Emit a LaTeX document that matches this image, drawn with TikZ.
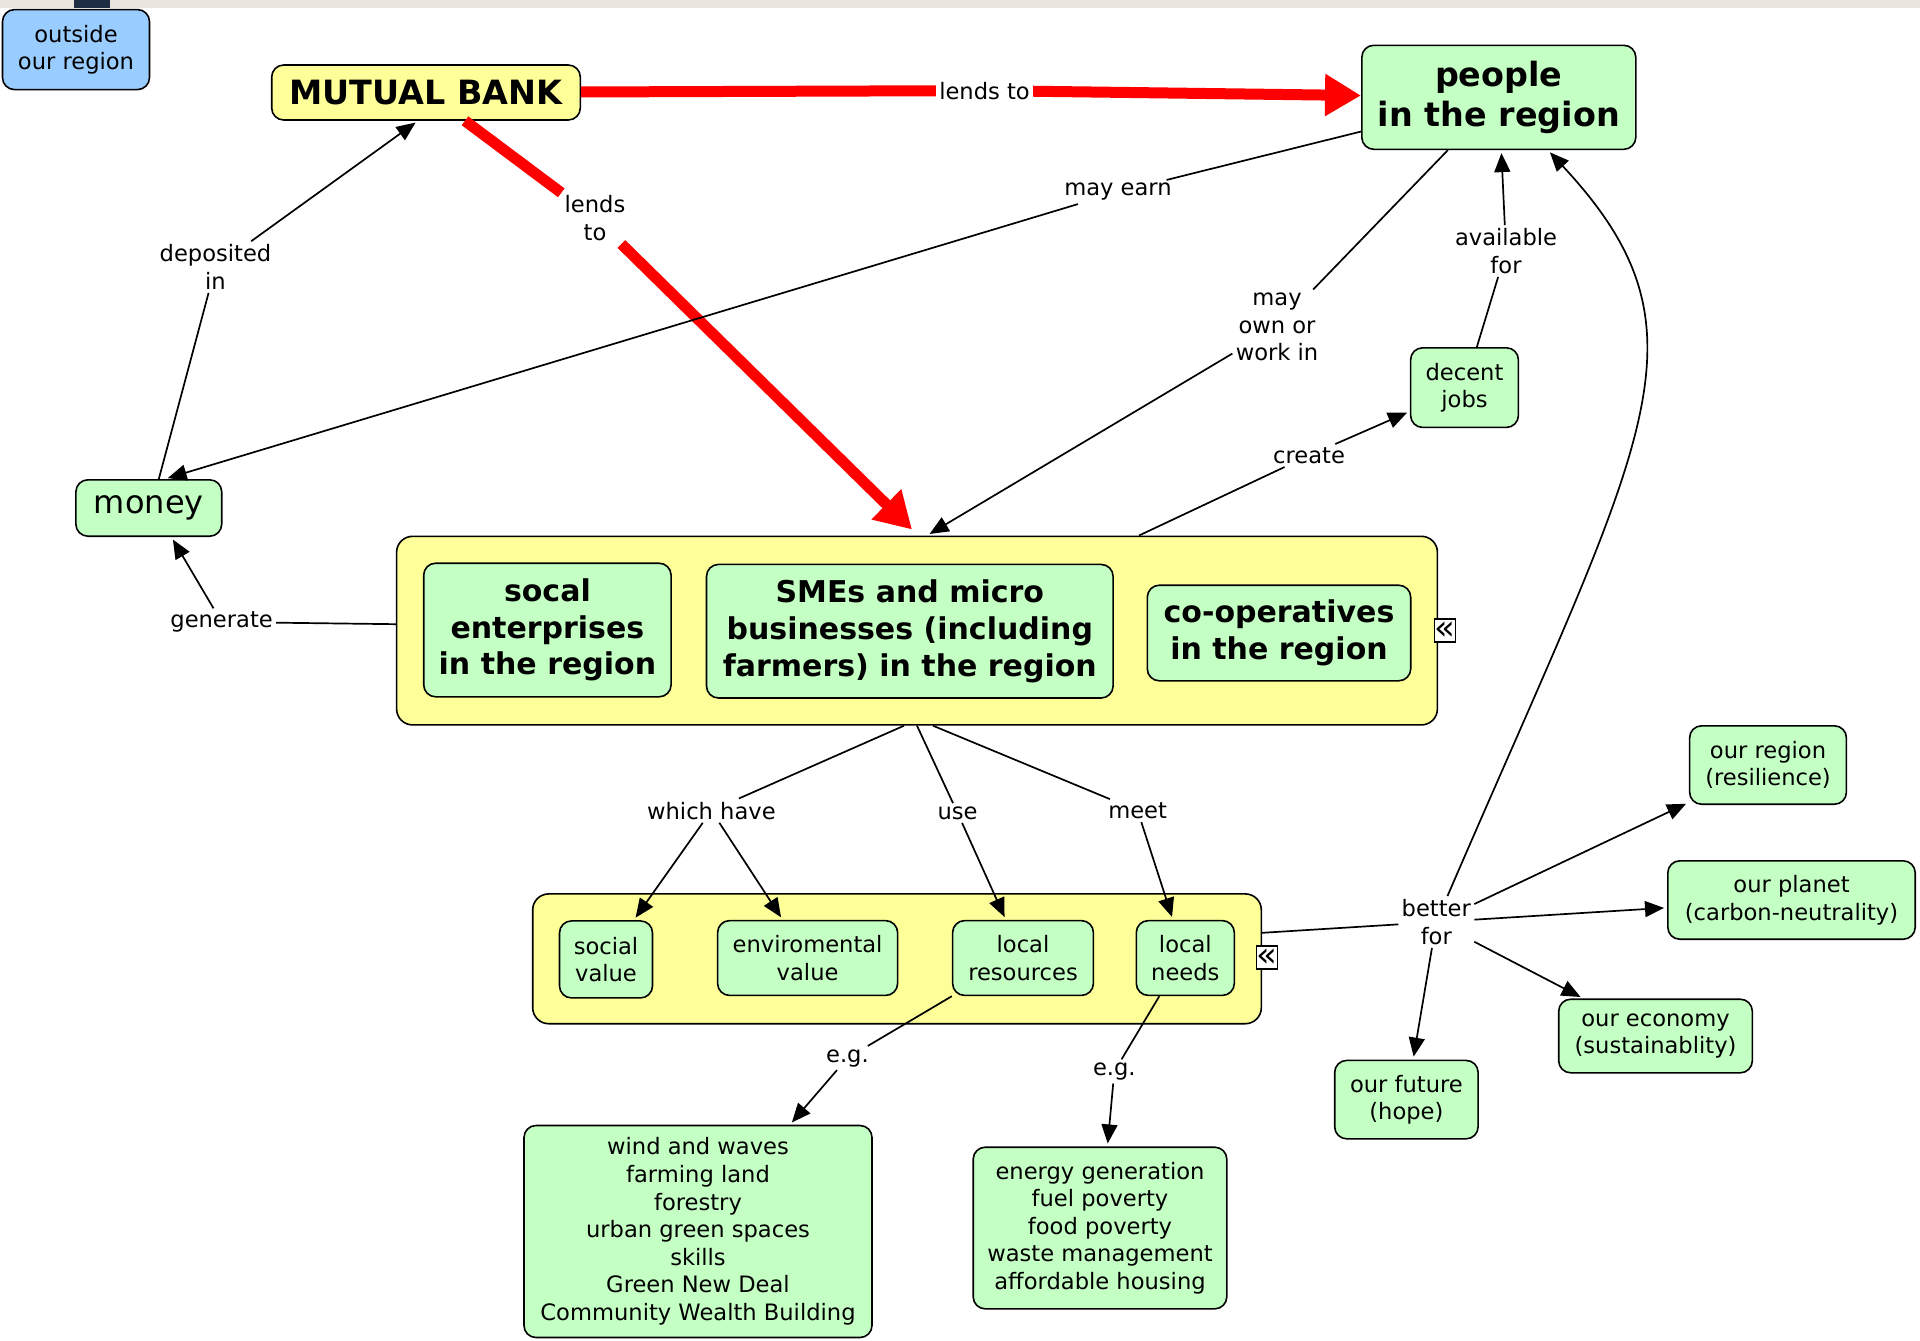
\documentclass[tikz,border=0pt]{standalone}
\usepackage{fontspec}
\setmainfont{DejaVu Sans}
\usetikzlibrary{arrows.meta}
\definecolor{cmapgreen}{RGB}{196,255,196}
\definecolor{cmapyellow}{RGB}{255,255,153}
\definecolor{cmapblue}{RGB}{153,204,255}
\definecolor{topbar}{RGB}{234,230,221}
\definecolor{topdark}{RGB}{30,45,65}
\begin{document}
\begin{tikzpicture}[x=0.5pt,y=-0.5pt,
  cbox/.style={draw, rounded corners=6pt, line width=0.8pt, fill=cmapgreen, align=center, inner sep=2pt, font=\fontsize{11.3}{13.8}\selectfont},
  bigbold/.style={font=\fontsize{16.7}{20.2}\selectfont\bfseries},
  midbold/.style={font=\fontsize{15}{18.4}\selectfont\bfseries},
  groupbox/.style={draw, rounded corners=8pt, line width=0.8pt, fill=cmapyellow},
  iconbox/.style={draw, fill=white, inner sep=0pt, minimum width=10pt, minimum height=11.5pt, line width=0.7pt, font=\fontsize{17}{17}\selectfont},
  phrase/.style={align=center, inner sep=1.5pt, font=\fontsize{11.3}{13.8}\selectfont},
  linkline/.style={line width=0.85pt},
  linkto/.style={linkline, -{Triangle[length=9.5pt,width=8pt]}, shorten >=1.5pt},
  lends/.style={line width=5.5pt, red},
  lendsto/.style={lends, -{Triangle[length=18pt,width=20pt]}}]
          \useasboundingbox (0,0) rectangle (1920,1340);
          \fill[white] (0,0) rectangle (1920,1340);
          \fill[topbar] (0,0) rectangle (1920,8);
          \fill[topdark] (74,0) rectangle (110,8);
          \node[cbox, fill=cmapblue, minimum width=73.5pt, minimum height=40pt] (outside) at (76,49.6) {outside\\our region};
          \node[cbox, fill=cmapyellow, bigbold, minimum width=154.3pt, minimum height=27.5pt] (bank) at (426,92.5) {MUTUAL BANK};
          \node[cbox, bigbold, minimum width=137pt, minimum height=52pt] (people) at (1498.8,97.3) {people\\in the region};
          \node[cbox, font=\fontsize{16}{19}\selectfont, minimum width=72.9pt, minimum height=28.2pt] (money) at (148.8,508) {money};
          \node[cbox, minimum width=53.9pt, minimum height=39.8pt] (jobs) at (1464.5,387.6) {decent\\jobs};
          \node[groupbox, minimum width=520.4pt, minimum height=94.3pt] (firms) at (917,630.6) {};
          \node[cbox, midbold, minimum width=123.7pt, minimum height=66.8pt] (socent) at (547.4,630) {socal\\enterprises\\in the region};
          \node[cbox, midbold, minimum width=203.3pt, minimum height=66.8pt] (smes) at (909.8,631.2) {SMEs and micro\\businesses (including\\farmers) in the region};
          \node[cbox, midbold, minimum width=131.7pt, minimum height=47.8pt] (coops) at (1279,633) {co-operatives\\in the region};
          \node[iconbox] (firmsicon) at (1445,630.6) {«};
          \node[groupbox, minimum width=364.3pt, minimum height=64.9pt] (values) at (897,958.8) {};
          \node[cbox, minimum width=46.5pt, minimum height=38.5pt] (socval) at (606,959.4) {social\\value};
          \node[cbox, minimum width=90pt, minimum height=37.4pt] (envval) at (807.6,958) {enviromental\\value};
          \node[cbox, minimum width=70.4pt, minimum height=37.4pt] (locres) at (1023,958) {local\\resources};
          \node[cbox, minimum width=49pt, minimum height=37.4pt] (locneeds) at (1185.3,958) {local\\needs};
          \node[iconbox] (valuesicon) at (1267,957.5) {«};
          \node[cbox, minimum width=174pt, minimum height=106pt] (resources) at (698,1231.5) {wind and waves\\farming land\\forestry\\urban green spaces\\skills\\Green New Deal\\Community Wealth Building};
          \node[cbox, minimum width=126.8pt, minimum height=80.8pt] (needs) at (1100,1228) {energy generation\\fuel poverty\\food poverty\\waste management\\affordable housing};
          \node[cbox, minimum width=78.4pt, minimum height=39.2pt] (region) at (1768,765) {our region\\(resilience)};
          \node[cbox, minimum width=123.7pt, minimum height=39.2pt] (planet) at (1791.5,900) {our planet\\(carbon-neutrality)};
          \node[cbox, minimum width=96.8pt, minimum height=36.8pt] (economy) at (1655.5,1036) {our economy\\(sustainablity)};
          \node[cbox, minimum width=71.7pt, minimum height=39.2pt] (future) at (1406.4,1099.6) {our future\\(hope)};
          \node[phrase] (lend1) at (984.5,90.6) {lends to};
          \node[phrase] (lend2) at (595,218) {lends\\to};
          \node[phrase] (deposited) at (215.5,267) {deposited\\in};
          \node[phrase] (earn) at (1118,192) {may earn};
          \node[phrase] (work) at (1277,327) {may\\own or\\work in};
          \node[phrase] (avail) at (1506,251) {available\\for};
          \node[phrase] (create) at (1309,455.5) {create};
          \node[phrase] (generate) at (221.6,622) {generate};
          \node[phrase] (have) at (711.4,810.6) {which have};
          \node[phrase] (uses) at (957.6,813) {use};
          \node[phrase] (meet) at (1137.6,810.6) {meet};
          \node[phrase] (better) at (1436.3,922) {better\\for};
          \node[phrase] (eg1) at (847.4,1058) {e.g.};
          \node[phrase] (eg2) at (1114.3,1071.4) {e.g.};
          \draw[lends] (bank) -- (lend1);
          \draw[lendsto] (lend1) -- (people);
          \draw[lends] ([xshift=19.5pt]bank.south) -- (lend2);
          \draw[lendsto] (lend2) -- ([xshift=-2.5pt,yshift=3pt]firms.north);
          \draw[linkline] ([xshift=5pt]money.north) -- (deposited);
          \draw[linkto] (deposited) -- ([xshift=-4pt]bank.south);
          \draw[linkline] (people) -- (earn);
          \draw[linkto] (earn) -- ([xshift=8pt]money.north);
          \draw[linkline] (people) -- (work);
          \draw[linkto] (work) -- ([xshift=5pt]firms.north);
          \draw[linkline] (jobs) -- (avail);
          \draw[linkto] (avail) -- (people);
          \draw[linkline] ([xshift=111pt]firms.north) -- (create);
          \draw[linkto] (create) -- (jobs);
          \draw[linkline] (firms) -- (generate);
          \draw[linkto] (generate) -- ([xshift=11.3pt]money.south);
          \draw[linkline] ([xshift=-6.5pt]firms.south) -- (have);
          \draw[linkline] (firms.south) -- (uses);
          \draw[linkline] ([xshift=8pt]firms.south) -- (meet);
          \foreach \v in {socval,envval}
          {
          \draw[linkto] (have) -- (\v);
          }
          \draw[linkto] (uses) -- (locres);
          \draw[linkto] (meet) -- (locneeds);
          \draw[linkline] ([yshift=13pt]values.east) -- (better);
          \foreach \b in {region,planet,economy,future}
          {
          \draw[linkto] (better) -- (\b);
          }
          \draw[linkto] (better) .. controls (1646.5,434.5) and (1719,334) .. (people);
          \draw[linkline] (locres.south west) -- (eg1);
          \draw[linkto] (eg1) -- (resources);
          \draw[linkline] ([xshift=-13pt]locneeds.south) -- (eg2);
          \draw[linkto] (eg2) -- (needs);
        \end{tikzpicture}
\end{document}
